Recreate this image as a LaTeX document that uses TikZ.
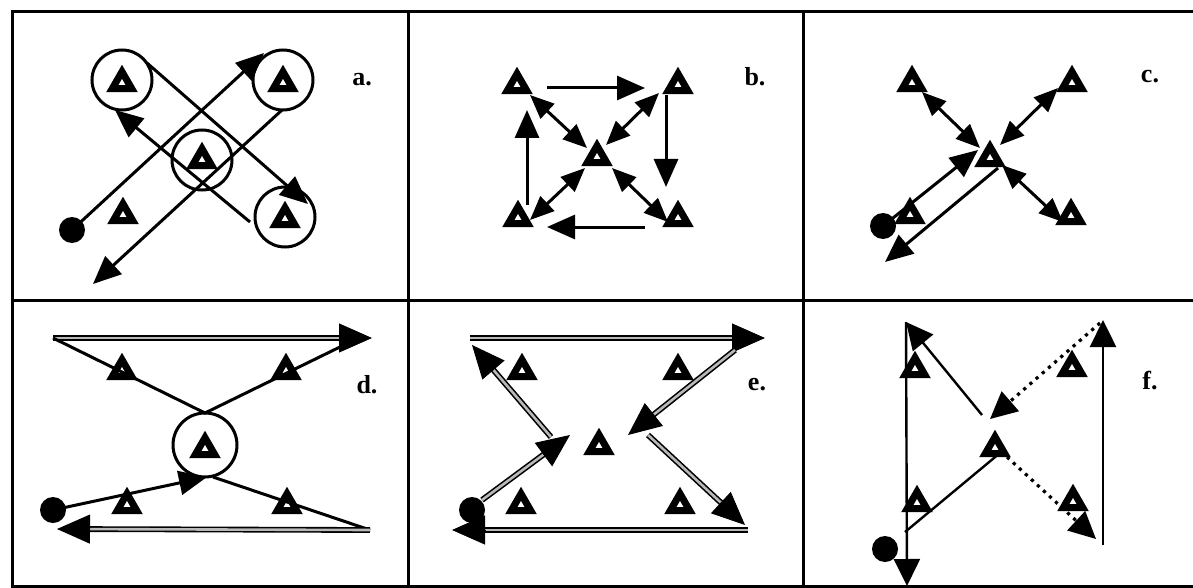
\documentclass[tikz,border=0pt]{standalone}
\usepackage{fontspec}
\setmainfont{Liberation Serif}
\usetikzlibrary{arrows.meta,shapes.geometric,calc}
\begin{document}
\begin{tikzpicture}[x=1pt,y=-1pt,
  tri/.style={regular polygon, regular polygon sides=3, draw=black, fill=white, line width=7pt, minimum size=22.5pt, inner sep=0pt, outer sep=0pt},
  ring/.style={circle, draw=black, line width=3pt, minimum size=60pt, inner sep=0pt},
  blob/.style={circle, fill=black, minimum size=26pt, inner sep=0pt},
  frame/.style={line width=3pt, line cap=rect},
  ln/.style={line width=3pt},
  thin/.style={line width=2.4pt},
  ar/.style={ln, -{Triangle[length=28pt,width=24pt]}},
  dar/.style={ln, {Triangle[length=24pt,width=20pt]}-{Triangle[length=24pt,width=20pt]}},
  far/.style={thin, -{Triangle[length=27pt,width=26pt]}},
  dbl/.style={line width=1.6pt, double=gray!55, double distance=2.6pt, shorten >=24pt},
  dtip/.style={line width=1pt, -{Triangle[length=33pt,width=29pt]}},
  dotl/.style={line width=3.2pt, dash pattern=on 3.2pt off 5pt, shorten >=14pt},
  lab/.style={font=\bfseries\fontsize{26}{26}\selectfont, inner sep=0pt}
]
\useasboundingbox (0,0) rectangle (1193,588);
% frame
\draw[frame] (12,12) -- (1193,12);
\draw[frame] (12,300) -- (1193,300);
\draw[frame] (12,586) -- (1193,586);
\draw[frame] (12,12) -- (12,586);
\draw[frame] (408,12) -- (408,586);
\draw[frame] (803,12) -- (803,586);

% ---------- panel a ----------
\node[ring] (ca1) at (122,80) {};
\node[ring] (ca2) at (283,80) {};
\node[ring] (ca3) at (202,160) {};
\node[ring] (ca4) at (285,217) {};
\node[tri] (ta1) at (122,83) {};
\node[tri] (ta2) at (283,83) {};
\node[tri] (ta3) at (202,160) {};
\node[tri] (ta4) at (285,219) {};
\node[tri] (ta5) at (123,215) {};
\node[blob] (da) at (72,230) {};
\coordinate (a1e) at (264,53);
\coordinate (a2s) at (282,110);
\coordinate (a2e) at (93,284);
\coordinate (a3s) at (147,63);
\coordinate (a3e) at (308,204);
\coordinate (a4s) at (250,222);
\coordinate (a4e) at (115,110);
\draw[ar] (da.center) -- (a1e);
\draw[ar] (a2s) -- (a2e);
\draw[ar] (a3s) -- (a3e);
\draw[ar] (a4s) -- (a4e);
\node[lab] (la) at (362,80) {a.};

% ---------- panel b ----------
\node[tri] (tb1) at (517,85) {};
\node[tri] (tb2) at (678,85) {};
\node[tri] (tb3) at (597,157) {};
\node[tri] (tb4) at (518,218) {};
\node[tri] (tb5) at (678,218) {};
\coordinate (b1s) at (547,88);  \coordinate (b1e) at (645,88);
\coordinate (b2s) at (666,95);  \coordinate (b2e) at (666,187);
\coordinate (b3s) at (645,227); \coordinate (b3e) at (547,227);
\coordinate (b4s) at (527,205); \coordinate (b4e) at (527,110);
\draw[ar] (b1s) -- (b1e);
\draw[ar] (b2s) -- (b2e);
\draw[ar] (b3s) -- (b3e);
\draw[ar] (b4s) -- (b4e);
\coordinate (b5s) at (530,95);  \coordinate (b5e) at (587,148);
\coordinate (b6s) at (659,93);  \coordinate (b6e) at (606,145);
\coordinate (b7s) at (530,220); \coordinate (b7e) at (585,168);
\coordinate (b8s) at (668,222); \coordinate (b8e) at (612,168);
\draw[dar] (b5s) -- (b5e);
\draw[dar] (b6s) -- (b6e);
\draw[dar] (b7s) -- (b7e);
\draw[dar] (b8s) -- (b8e);
\node[lab] (lb) at (755,77) {b.};

% ---------- panel c ----------
\node[tri] (tc1) at (912,83) {};
\node[tri] (tc2) at (1072,83) {};
\node[tri] (tc3) at (990,158) {};
\node[tri] (tc4) at (910,215) {};
\node[tri] (tc5) at (1071,216) {};
\node[blob] (dc) at (883,226) {};
\coordinate (c1s) at (922,92);   \coordinate (c1e) at (980,148);
\coordinate (c2s) at (1058,88);  \coordinate (c2e) at (1000,145);
\coordinate (c3s) at (1002,165); \coordinate (c3e) at (1063,222);
\coordinate (c4e) at (978,150);
\coordinate (c5s) at (998,168);  \coordinate (c5e) at (885,262);
\draw[dar] (c1s) -- (c1e);
\draw[dar] (c2s) -- (c2e);
\draw[dar] (c3s) -- (c3e);
\draw[ar] (dc.center) -- (c4e);
\draw[ar] (c5s) -- (c5e);
\node[lab] (lc) at (1150,77) {c.};

% ---------- panel d ----------
\node[ring, minimum size=64pt] (cd) at (205,445) {};
\node[tri] (td0) at (205,449) {};
\node[tri] (td1) at (122,371) {};
\node[tri] (td2) at (286,371) {};
\node[tri] (td3) at (127,505) {};
\node[tri] (td4) at (287,505) {};
\node[blob] (dd) at (53,510) {};
\coordinate (d1s) at (53,338);  \coordinate (d1e) at (372,338);
\coordinate (d2m) at (205,413); \coordinate (d2e) at (342,346);
\coordinate (d3e) at (207,477);
\coordinate (d4s) at (213,477); \coordinate (d4e) at (370,530);
\coordinate (d5e) at (57,529);
\draw[dbl] (d1s) -- (d1e);
\draw[dtip] ($(d1e)!33pt!(d1s)$) -- (d1e);
\draw[ln] (d1s) -- (d2m) -- (d2e);
\draw[ar] (dd.center) -- (d3e);
\draw[ln] (d4s) -- (d4e);
\draw[dbl] (d4e) -- (d5e);
\draw[dtip] ($(d5e)!33pt!(d4e)$) -- (d5e);
\node[lab] (ld) at (367,385) {d.};

% ---------- panel e ----------
\node[tri] (te1) at (522,371) {};
\node[tri] (te2) at (678,371) {};
\node[tri] (te3) at (599,446) {};
\node[tri] (te4) at (521,505) {};
\node[tri] (te5) at (680,505) {};
\node[blob] (de) at (472,510) {};
\coordinate (e1s) at (470,338); \coordinate (e1e) at (765,338);
\coordinate (e2s) at (735,350); \coordinate (e2e) at (628,435);
\coordinate (e3s) at (648,435); \coordinate (e3e) at (745,525);
\coordinate (e4s) at (748,530); \coordinate (e4e) at (452,530);
\coordinate (e5s) at (482,500); \coordinate (e5e) at (570,435);
\coordinate (e6s) at (551,437); \coordinate (e6e) at (472,345);
\draw[dbl] (e1s) -- (e1e);
\draw[dtip] ($(e1e)!33pt!(e1s)$) -- (e1e);
\draw[dbl] (e2s) -- (e2e);
\draw[dtip] ($(e2e)!33pt!(e2s)$) -- (e2e);
\draw[dbl] (e3s) -- (e3e);
\draw[dtip] ($(e3e)!33pt!(e3s)$) -- (e3e);
\draw[dbl] (e4s) -- (e4e);
\draw[dtip] ($(e4e)!33pt!(e4s)$) -- (e4e);
\draw[dbl] (e5s) -- (e5e);
\draw[dtip] ($(e5e)!33pt!(e5s)$) -- (e5e);
\draw[dbl] (e6s) -- (e6e);
\draw[dtip] ($(e6e)!33pt!(e6s)$) -- (e6e);
\node[lab] (le) at (757,385) {e.};

% ---------- panel f ----------
\node[tri] (tf1) at (915,369) {};
\node[tri] (tf2) at (1072,368) {};
\node[tri] (tf3) at (995,448) {};
\node[tri] (tf4) at (917,503) {};
\node[tri] (tf5) at (1073,502) {};
\node[blob] (df) at (885,549) {};
\coordinate (f1s) at (906,322); \coordinate (f1e) at (907,586);
\coordinate (f2s) at (982,415);
\coordinate (f3s) at (1000,453); \coordinate (f3e) at (905,532);
\coordinate (f4s) at (1100,323); \coordinate (f4e) at (990,419);
\coordinate (f5s) at (1007,457); \coordinate (f5e) at (1096,539);
\coordinate (f6s) at (1103,545); \coordinate (f6e) at (1103,320);
\draw[far] (f1s) -- (f1e);
\draw[far] (f2s) -- (f1s);
\draw[thin] (f3s) -- (f3e);
\draw[dotl] (f4s) -- (f4e);
\draw[far] ($(f4e)!27pt!(f4s)$) -- (f4e);
\draw[dotl] (f5s) -- (f5e);
\draw[far] ($(f5e)!27pt!(f5s)$) -- (f5e);
\draw[far] (f6s) -- (f6e);
\node[lab] (lf) at (1150,381) {f.};
\end{tikzpicture}
\end{document}
